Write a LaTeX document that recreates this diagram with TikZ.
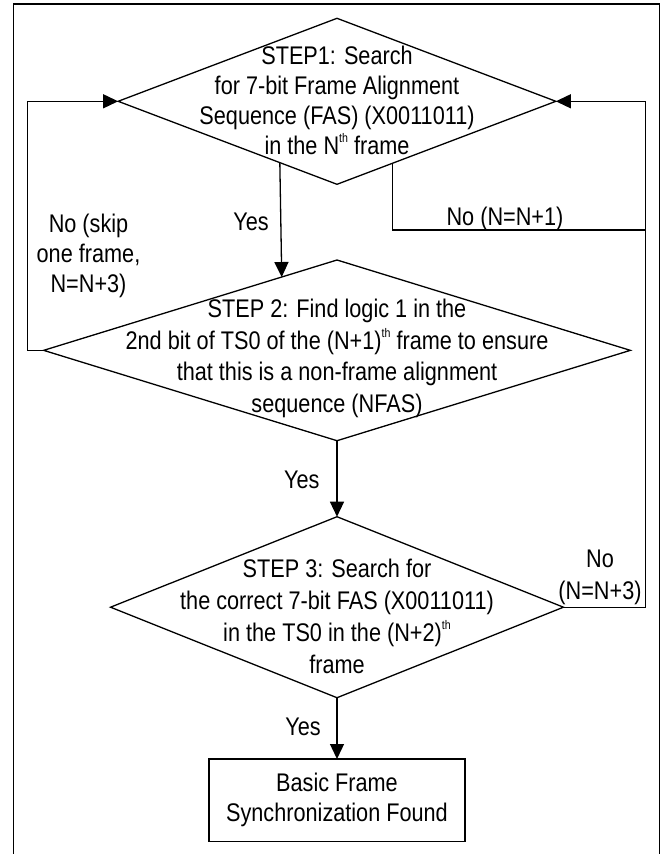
\documentclass[tikz,border=0pt]{standalone}
\usepackage{fontspec}
\setmainfont{Liberation Sans}[FakeStretch=0.85]
\usetikzlibrary{arrows.meta,shapes.geometric}
\newcommand\mysup[1]{\raisebox{12pt}{\fontsize{12.5}{12.5}\selectfont #1}}
\begin{document}
\begin{tikzpicture}[x=1pt,y=-1pt,
  ln/.style={line width=1.3pt},
  arr/.style={line width=1.3pt,-{Triangle[length=15pt,width=14pt]}},
  dia/.style={draw,diamond,line width=1.3pt,inner sep=0pt,outer sep=0pt},
  txt/.style={align=center,inner sep=0pt,font=\fontsize{25.5}{30}\selectfont},
  txtw/.style={align=center,inner sep=0pt,font=\fontsize{25.5}{31.8}\selectfont},
  boxst/.style={draw,line width=1.3pt,inner sep=0pt,outer sep=0pt,align=center,font=\fontsize{25.5}{30}\selectfont}]
\useasboundingbox (0,0) rectangle (662,854);
\draw[line width=1.5pt] (13.3,856) -- (13.3,4) -- (659.3,4) -- (659.3,856);
% decision shapes
\node[dia,minimum width=437.7pt,minimum height=166pt] (d1) at (337,101.3) {};
\node[dia,minimum width=586.7pt,minimum height=180.7pt] (d2) at (337,350.35) {};
\node[dia,minimum width=452.9pt,minimum height=181pt] (d3) at (337,607.2) {};
\node[boxst,minimum width=256pt,minimum height=82.7pt] (box) at (337,800.35) {Basic Frame\\Synchronization Found};
% texts in decisions
\node[txt] (t1) at (337,100) {STEP1: Search\\for 7-bit Frame Alignment\\Sequence (FAS) (X0011011)\\in the N\mysup{th} frame};
\node[txtw] (t2) at (337,358.4) {STEP 2: Find logic 1 in the\\2nd bit of TS0 of the (N+1)\mysup{th} frame to ensure\\that this is a non-frame alignment\\sequence (NFAS)};
\node[txtw] (t3) at (337,616.5) {STEP 3: Search for\\the correct 7-bit FAS (X0011011)\\in the TS0 in the (N+2)\mysup{th}\\frame};
% helper coordinates
\coordinate (lx) at (27.7,0);
\coordinate (rx) at (645.7,0);
\coordinate (nA) at (645.7,230);
% connectors
\draw[arr] (d1.227.6) -- (d2.127.64);
\draw[arr] (d2.south) -- (d3.north);
\draw[arr] (d3.south) -- (box.north);
\draw[arr] (d2.west) -- (d2.west -| lx) -- (d1.west -| lx) -- (d1.west);
\draw[arr] (d3.east) -- (d3.east -| rx) -- (d1.east -| rx) -- (d1.east);
\draw[ln] (d1.312.4) |- (nA);
% labels
\node[txt] (yes1) at (251,222) {Yes};
\node[txt] (yes2) at (301.7,480) {Yes};
\node[txt] (yes3) at (303,727) {Yes};
\node[txt] (noskip) at (88.5,255.4) {No (skip\\one frame,\\N=N+3)};
\node[txt] (no1) at (505,219) {No (N=N+1)};
\node[txtw] (no2) at (600,577) {No\\(N=N+3)};
\end{tikzpicture}
\end{document}
